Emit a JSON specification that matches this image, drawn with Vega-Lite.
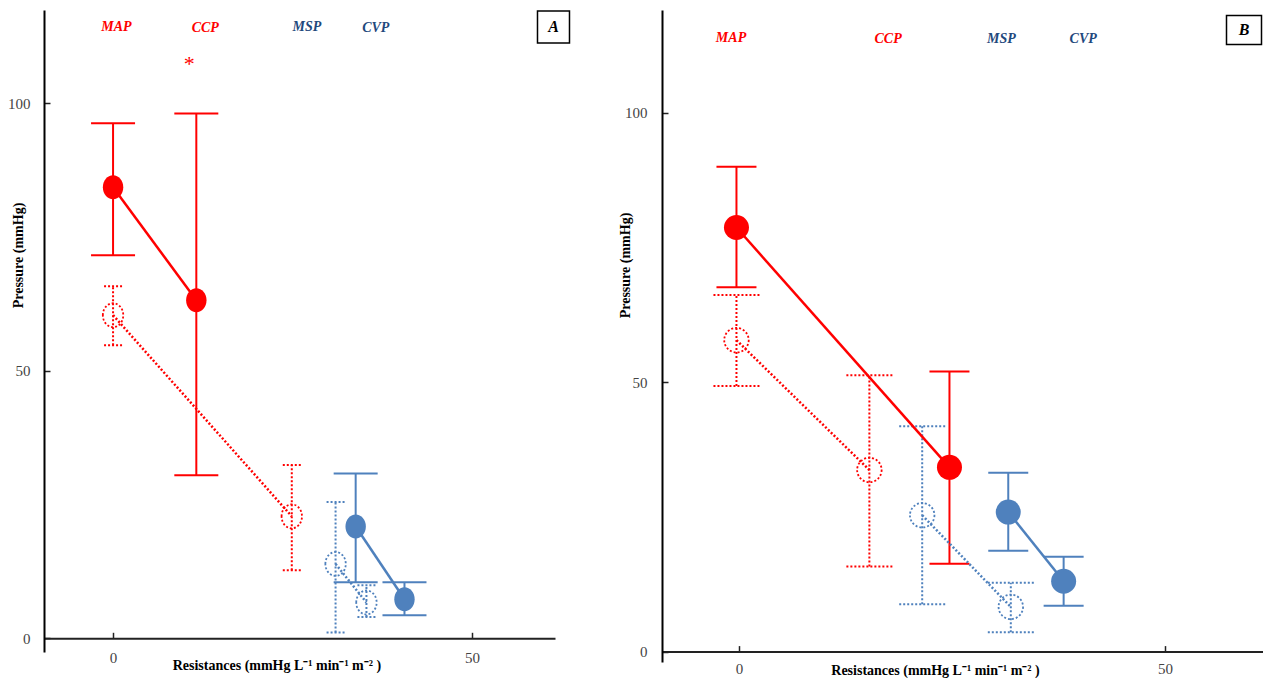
{
  "$schema": "https://vega.github.io/schema/vega-lite/v6.json",
  "autosize": {"type": "pad"},
  "padding": {"left": 7, "top": 8, "right": 0, "bottom": 0},
  "background": "white",
  "config": {"view": {"stroke": null}},
  "datasets": {
    "pts": [
      {"panel": "A", "series": "arterial", "group": "filled", "variable": "MAP", "resistance": 0, "pressure": 84.3, "low": 71.6, "high": 96.3},
      {"panel": "A", "series": "arterial", "group": "filled", "variable": "CCP", "resistance": 11.6, "pressure": 63.2, "low": 30.5, "high": 98.1},
      {"panel": "A", "series": "arterial", "group": "open", "variable": "MAP", "resistance": 0, "pressure": 60.4, "low": 54.8, "high": 65.8},
      {"panel": "A", "series": "arterial", "group": "open", "variable": "CCP", "resistance": 24.9, "pressure": 22.8, "low": 12.7, "high": 32.4},
      {"panel": "A", "series": "venous", "group": "filled", "variable": "MSP", "resistance": 33.8, "pressure": 20.9, "low": 10.5, "high": 30.8},
      {"panel": "A", "series": "venous", "group": "filled", "variable": "CVP", "resistance": 40.6, "pressure": 7.3, "low": 4.3, "high": 10.5},
      {"panel": "A", "series": "venous", "group": "open", "variable": "MSP", "resistance": 31.0, "pressure": 13.9, "low": 1.1, "high": 25.5},
      {"panel": "A", "series": "venous", "group": "open", "variable": "CVP", "resistance": 35.3, "pressure": 6.7, "low": 4.0, "high": 9.9},
      {"panel": "B", "series": "arterial", "group": "filled", "variable": "MAP", "resistance": -0.3, "pressure": 78.7, "low": 67.6, "high": 90.0},
      {"panel": "B", "series": "arterial", "group": "filled", "variable": "CCP", "resistance": 24.7, "pressure": 34.2, "low": 16.3, "high": 52.0},
      {"panel": "B", "series": "arterial", "group": "open", "variable": "MAP", "resistance": -0.3, "pressure": 57.8, "low": 49.3, "high": 66.2},
      {"panel": "B", "series": "arterial", "group": "open", "variable": "CCP", "resistance": 15.3, "pressure": 33.7, "low": 15.8, "high": 51.3},
      {"panel": "B", "series": "venous", "group": "filled", "variable": "MSP", "resistance": 31.6, "pressure": 25.9, "low": 18.7, "high": 33.2},
      {"panel": "B", "series": "venous", "group": "filled", "variable": "CVP", "resistance": 38.1, "pressure": 13.05, "low": 8.5, "high": 17.6},
      {"panel": "B", "series": "venous", "group": "open", "variable": "MSP", "resistance": 21.5, "pressure": 25.3, "low": 8.8, "high": 41.8},
      {"panel": "B", "series": "venous", "group": "open", "variable": "CVP", "resistance": 31.9, "pressure": 8.3, "low": 3.6, "high": 12.8}
    ],
    "labels": [
      {"panel": "A", "series": "arterial", "label": "MAP", "resistance": 0.47, "pressure": 114.3},
      {"panel": "A", "series": "arterial", "label": "CCP", "resistance": 12.85, "pressure": 114.0},
      {"panel": "A", "series": "venous", "label": "MSP", "resistance": 27.0, "pressure": 114.2},
      {"panel": "A", "series": "venous", "label": "CVP", "resistance": 36.6, "pressure": 114.0},
      {"panel": "B", "series": "arterial", "label": "MAP", "resistance": -0.94, "pressure": 113.9},
      {"panel": "B", "series": "arterial", "label": "CCP", "resistance": 17.5, "pressure": 113.7},
      {"panel": "B", "series": "venous", "label": "MSP", "resistance": 30.8, "pressure": 113.7},
      {"panel": "B", "series": "venous", "label": "CVP", "resistance": 40.4, "pressure": 113.7}
    ],
    "stars": [
      {"panel": "A", "label": "*", "resistance": 10.6, "pressure": 107.3}
    ],
    "boxes": [
      {"panel": "A", "label": "A", "resistance": 61.36, "pressure": 114.27},
      {"panel": "B", "label": "B", "resistance": 59.27, "pressure": 115.35}
    ]
  },
  "hconcat": [
    {
      "width": 511,
      "height": 642,
      "encoding": {
        "x": {"field": "resistance", "type": "quantitative", "scale": {"domain": [-9.62, 61.57]},
          "axis": {"values": [0, 50], "grid": false, "offset": -13.7, "domainColor": "#222", "domainWidth": 2, "tickColor": "#222", "tickWidth": 1.5, "tickSize": -6,
            "labelFont": "Liberation Serif", "labelFontSize": 15, "labelColor": "#444", "labelPadding": 18,
            "title": "Resistances (mmHg L⁻¹ min⁻¹ m⁻² )", "titleFont": "Liberation Serif", "titleFontSize": 14, "titleFontWeight": "bold", "titleColor": "#000",
            "titleX": 232.4, "titleY": 27, "titleBaseline": "middle", "titleAlign": "center", "titleAnchor": null}},
        "y": {"field": "pressure", "type": "quantitative", "scale": {"domain": [-2.56, 117.45]},
          "axis": {"values": [0, 50, 100], "grid": false, "domainColor": "#000", "domainWidth": 2, "tickColor": "#222", "tickWidth": 1.5, "tickSize": -6,
            "labelFont": "Liberation Serif", "labelFontSize": 15, "labelColor": "#444", "labelPadding": 20,
            "title": "Pressure (mmHg)", "titleFont": "Liberation Serif", "titleFontSize": 14, "titleFontWeight": "bold", "titleColor": "#000",
            "titleX": -25.3, "titleY": 245, "titleBaseline": "middle", "titleAlign": "center", "titleAngle": 270}}
      },
      "layer": [
        {"data": {"name": "pts"}, "transform": [{"filter": "datum.panel === 'A' && datum.group === 'filled'"}],
          "mark": {"type": "rule", "strokeWidth": 2},
          "encoding": {"y": {"field": "low", "type": "quantitative", "scale": {"domain": [-2.56, 117.45]}}, "y2": {"field": "high"},
            "color": {"field": "series", "type": "nominal", "scale": {"domain": ["arterial", "venous"], "range": ["#FF0000", "#4F81BD"]}, "legend": null}}},
        {"data": {"name": "pts"}, "transform": [{"filter": "datum.panel === 'A' && datum.group === 'open'"}],
          "mark": {"type": "rule", "strokeWidth": 2, "strokeDash": [2, 2]},
          "encoding": {"y": {"field": "low", "type": "quantitative", "scale": {"domain": [-2.56, 117.45]}}, "y2": {"field": "high"},
            "color": {"field": "series", "type": "nominal", "legend": null}}},
        {"data": {"name": "pts"}, "transform": [{"filter": "datum.panel === 'A' && datum.group === 'filled'"}, {"fold": ["low", "high"], "as": ["bound", "pressure"]}],
          "mark": {"type": "point", "shape": "M-1,0H1", "size": 1936, "filled": false, "strokeWidth": 2, "opacity": 1},
          "encoding": {"color": {"field": "series", "type": "nominal", "legend": null}}},
        {"data": {"name": "pts"}, "transform": [{"filter": "datum.panel === 'A' && datum.group === 'open'"}, {"fold": ["low", "high"], "as": ["bound", "pressure"]}],
          "mark": {"type": "point", "shape": "M-1,0H1", "size": 324, "filled": false, "strokeWidth": 2, "strokeDash": [2, 2], "opacity": 1},
          "encoding": {"color": {"field": "series", "type": "nominal", "legend": null}}},
        {"data": {"name": "pts"}, "transform": [{"filter": "datum.panel === 'A' && datum.group === 'filled'"}],
          "mark": {"type": "line", "strokeWidth": 2.5},
          "encoding": {"color": {"field": "series", "type": "nominal", "legend": null}}},
        {"data": {"name": "pts"}, "transform": [{"filter": "datum.panel === 'A' && datum.group === 'open'"}],
          "mark": {"type": "line", "strokeWidth": 2.5, "strokeDash": [2, 2]},
          "encoding": {"color": {"field": "series", "type": "nominal", "legend": null}}},
        {"data": {"name": "pts"}, "transform": [{"filter": "datum.panel === 'A' && datum.group === 'filled'"}],
          "mark": {"type": "point", "shape": "M-0.85,0A0.85,1,0,1,1,0.85,0A0.85,1,0,1,1,-0.85,0Z", "size": 576, "filled": true, "opacity": 1},
          "encoding": {"color": {"field": "series", "type": "nominal", "legend": null}}},
        {"data": {"name": "pts"}, "transform": [{"filter": "datum.panel === 'A' && datum.group === 'open'"}],
          "mark": {"type": "point", "shape": "M-0.85,0A0.85,1,0,1,1,0.85,0A0.85,1,0,1,1,-0.85,0Z", "size": 576, "filled": false, "strokeWidth": 1.8, "strokeDash": [2, 2], "opacity": 1},
          "encoding": {"color": {"field": "series", "type": "nominal", "legend": null}}},
        {"data": {"name": "labels"}, "transform": [{"filter": "datum.panel === 'A'"}],
          "mark": {"type": "text", "font": "Liberation Serif", "fontStyle": "italic", "fontWeight": "bold", "fontSize": 14, "baseline": "middle", "align": "center"},
          "encoding": {"text": {"field": "label"}, "fill": {"field": "series", "type": "nominal", "scale": {"domain": ["arterial", "venous"], "range": ["#FF0000", "#1F497D"]}, "legend": null}}},
        {"data": {"name": "stars"}, "transform": [{"filter": "datum.panel === 'A'"}],
          "mark": {"type": "text", "font": "Liberation Serif", "fontSize": 22, "color": "#FF0000", "baseline": "middle", "align": "center"},
          "encoding": {"text": {"field": "label"}}},
        {"data": {"name": "boxes"}, "transform": [{"filter": "datum.panel === 'A'"}],
          "mark": {"type": "point", "shape": "square", "size": 1024, "filled": false, "color": "#000", "strokeWidth": 1.5, "opacity": 1}},
        {"data": {"name": "boxes"}, "transform": [{"filter": "datum.panel === 'A'"}],
          "mark": {"type": "text", "font": "Liberation Serif", "fontStyle": "italic", "fontWeight": "bold", "fontSize": 16, "color": "#000", "baseline": "middle", "align": "center"},
          "encoding": {"text": {"field": "label"}}}
      ]
    },
    {
      "width": 601,
      "height": 652,
      "encoding": {
        "x": {"field": "resistance", "type": "quantitative", "scale": {"domain": [-9.04, 61.5]},
          "axis": {"values": [0, 50], "grid": false, "offset": -10.4, "domainColor": "#222", "domainWidth": 2, "tickColor": "#222", "tickWidth": 1.5, "tickSize": -6,
            "labelFont": "Liberation Serif", "labelFontSize": 15, "labelColor": "#444", "labelPadding": 15.5,
            "title": "Resistances (mmHg L⁻¹ min⁻¹ m⁻² )", "titleFont": "Liberation Serif", "titleFontSize": 14, "titleFontWeight": "bold", "titleColor": "#000",
            "titleX": 273, "titleY": 18.5, "titleBaseline": "middle", "titleAlign": "center", "titleAnchor": null}},
        "y": {"field": "pressure", "type": "quantitative", "scale": {"domain": [-1.93, 119.07]},
          "axis": {"values": [0, 50, 100], "grid": false, "domainColor": "#000", "domainWidth": 2, "tickColor": "#222", "tickWidth": 1.5, "tickSize": -6,
            "labelFont": "Liberation Serif", "labelFontSize": 15, "labelColor": "#444", "labelPadding": 21,
            "title": "Pressure (mmHg)", "titleFont": "Liberation Serif", "titleFontSize": 14, "titleFontWeight": "bold", "titleColor": "#000",
            "titleX": -37, "titleY": 255, "titleBaseline": "middle", "titleAlign": "center", "titleAngle": 270}}
      },
      "layer": [
        {"data": {"name": "pts"}, "transform": [{"filter": "datum.panel === 'B' && datum.group === 'filled'"}],
          "mark": {"type": "rule", "strokeWidth": 2},
          "encoding": {"y": {"field": "low", "type": "quantitative", "scale": {"domain": [-1.93, 119.07]}}, "y2": {"field": "high"},
            "color": {"field": "series", "type": "nominal", "scale": {"domain": ["arterial", "venous"], "range": ["#FF0000", "#4F81BD"]}, "legend": null}}},
        {"data": {"name": "pts"}, "transform": [{"filter": "datum.panel === 'B' && datum.group === 'open'"}],
          "mark": {"type": "rule", "strokeWidth": 2, "strokeDash": [2, 2]},
          "encoding": {"y": {"field": "low", "type": "quantitative", "scale": {"domain": [-1.93, 119.07]}}, "y2": {"field": "high"},
            "color": {"field": "series", "type": "nominal", "legend": null}}},
        {"data": {"name": "pts"}, "transform": [{"filter": "datum.panel === 'B' && datum.group === 'filled'"}, {"fold": ["low", "high"], "as": ["bound", "pressure"]}],
          "mark": {"type": "point", "shape": "M-1,0H1", "size": 1600, "filled": false, "strokeWidth": 2, "opacity": 1},
          "encoding": {"color": {"field": "series", "type": "nominal", "legend": null}}},
        {"data": {"name": "pts"}, "transform": [{"filter": "datum.panel === 'B' && datum.group === 'open'"}, {"fold": ["low", "high"], "as": ["bound", "pressure"]}],
          "mark": {"type": "point", "shape": "M-1,0H1", "size": 2116, "filled": false, "strokeWidth": 2, "strokeDash": [2, 2], "opacity": 1},
          "encoding": {"color": {"field": "series", "type": "nominal", "legend": null}}},
        {"data": {"name": "pts"}, "transform": [{"filter": "datum.panel === 'B' && datum.group === 'filled'"}],
          "mark": {"type": "line", "strokeWidth": 2.5},
          "encoding": {"color": {"field": "series", "type": "nominal", "legend": null}}},
        {"data": {"name": "pts"}, "transform": [{"filter": "datum.panel === 'B' && datum.group === 'open'"}],
          "mark": {"type": "line", "strokeWidth": 2.5, "strokeDash": [2, 2]},
          "encoding": {"color": {"field": "series", "type": "nominal", "legend": null}}},
        {"data": {"name": "pts"}, "transform": [{"filter": "datum.panel === 'B' && datum.group === 'filled'"}],
          "mark": {"type": "point", "shape": "circle", "size": 625, "filled": true, "opacity": 1},
          "encoding": {"color": {"field": "series", "type": "nominal", "legend": null}}},
        {"data": {"name": "pts"}, "transform": [{"filter": "datum.panel === 'B' && datum.group === 'open'"}],
          "mark": {"type": "point", "shape": "circle", "size": 600, "filled": false, "strokeWidth": 1.8, "strokeDash": [2, 2], "opacity": 1},
          "encoding": {"color": {"field": "series", "type": "nominal", "legend": null}}},
        {"data": {"name": "labels"}, "transform": [{"filter": "datum.panel === 'B'"}],
          "mark": {"type": "text", "font": "Liberation Serif", "fontStyle": "italic", "fontWeight": "bold", "fontSize": 14, "baseline": "middle", "align": "center"},
          "encoding": {"text": {"field": "label"}, "fill": {"field": "series", "type": "nominal", "scale": {"domain": ["arterial", "venous"], "range": ["#FF0000", "#1F497D"]}, "legend": null}}},
        {"data": {"name": "boxes"}, "transform": [{"filter": "datum.panel === 'B'"}],
          "mark": {"type": "point", "shape": "M-1,-0.83H1V0.83H-1Z", "size": 1225, "filled": false, "color": "#000", "strokeWidth": 1.5, "opacity": 1}},
        {"data": {"name": "boxes"}, "transform": [{"filter": "datum.panel === 'B'"}],
          "mark": {"type": "text", "font": "Liberation Serif", "fontStyle": "italic", "fontWeight": "bold", "fontSize": 16, "color": "#000", "baseline": "middle", "align": "center"},
          "encoding": {"text": {"field": "label"}}}
      ]
    }
  ],
  "spacing": 107,
  "bounds": "flush"
}
